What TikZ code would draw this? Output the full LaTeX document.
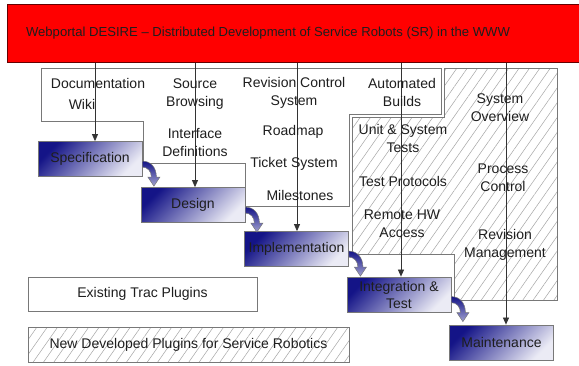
\documentclass[tikz,border=0pt]{standalone}
\usepackage{fontspec}
\setmainfont{Liberation Sans}
\usetikzlibrary{patterns.meta,arrows.meta,calc}
\definecolor{navyd}{RGB}{20,20,135}
\definecolor{navyl}{RGB}{235,235,245}
\definecolor{edge}{RGB}{120,120,120}
\definecolor{hatch}{RGB}{165,165,165}
\definecolor{txt}{RGB}{30,30,30}
\newcommand\flowarrow[1]{\path[flow, shift={(#1)}] (0,0) .. controls (8,0) and (14,6) .. (14,16) -- (17.5,16) -- (11.5,25) -- (5.5,16) -- (9,16) .. controls (9,10) and (5,6) .. (0,6) -- cycle;}
\begin{document}
\begin{tikzpicture}[x=1pt,y=-1pt,
  phase/.style={draw=edge, line width=0.8pt, top color=navyd, bottom color=navyl, shading angle=45,
    minimum width=104pt, minimum height=35pt, inner sep=0pt, font=\fontsize{14}{17}\selectfont, text=txt, align=center},
  lbl/.style={font=\fontsize{14}{18}\selectfont, text=txt, align=center, inner sep=0pt},
  region/.style={draw=edge, line width=0.8pt},
  hatched/.style={region, pattern={Lines[angle=55,distance=8.5pt,line width=0.5pt]}, pattern color=hatch},
  vline/.style={draw=black!80, line width=0.7pt, -{Triangle[length=7pt,width=6pt]}},
  flow/.style={draw=edge, line width=0.5pt, top color=navyd, bottom color=navyd!40!white}
]
\clip (0,0) rectangle (579,365);
\fill[white] (0,0) rectangle (579,365);

% header
\node[draw=red!40!black, line width=0.8pt, fill=red, minimum width=590pt, minimum height=58pt, anchor=north west, inner sep=0pt] (header) at (7,4) {};
\node[lbl, font=\fontsize{13.1}{16}\selectfont] (title) at (268,33) {Webportal DESIRE \textendash{} Distributed Development of Service Robots (SR) in the WWW};

% regions
\draw[region, fill=white] (41,68) -- (441,68) -- (441,114) -- (349,114) -- (349,206) -- (245,206) -- (245,163) -- (143,163) -- (143,121) -- (41,121) -- cycle;
\draw[hatched] (352,117) -- (444,117) -- (444,68) -- (557,68) -- (557,300) -- (454,300) -- (454,254) -- (352,254) -- cycle;

% phase boxes
\node[phase] (spec) at (90,159) {Specification};
\node[phase] (design) at (193,205) {Design};
\node[phase] (impl) at (296.5,249) {Implementation};
\node[phase] (integ) at (399,294.5) {Integration \&\\Test};
\node[phase] (maint) at (501.5,342.5) {Maintenance};

% vertical arrows
\coordinate (t1) at ($(spec.north)+(5,0)$);
\coordinate (t2) at ($(design.north)+(2,0)$);
\coordinate (t3) at ($(impl.north)+(0.5,0)$);
\coordinate (t4) at ($(integ.north)+(2,0)$);
\coordinate (t5) at ($(maint.north)+(4.5,0)$);
\foreach \t in {t1,t2,t3,t4,t5} \draw[vline] (header.south -| \t) -- (\t);

% flow arrows
\flowarrow{$(spec.north east)+(0,20)$}
\flowarrow{$(design.north east)+(0,20)$}
\flowarrow{$(impl.north east)+(0,20)$}
\flowarrow{$(integ.north east)+(0,20)$}

% labels
\node[lbl] (doc) at (98,83) {Documentation};
\node[lbl] (wiki) at (82,104) {Wiki};
\node[lbl] (src) at (195,94) {Source\\Browsing};
\node[lbl] (iface) at (195,142) {Interface\\Definitions};
\node[lbl] (rcs) at (294,93) {Revision Control\\System};
\node[lbl] (road) at (293,132) {Roadmap};
\node[lbl] (ticket) at (294,164) {Ticket System};
\node[lbl] (miles) at (300,195) {Milestones};
\node[lbl] (auto) at (402,92) {Automated\\Builds};
\node[lbl] (unit) at (403,138) {Unit \& System\\Tests};
\node[lbl] (tproto) at (403,181) {Test Protocols};
\node[lbl] (remote) at (402,224) {Remote HW\\Access};
\node[lbl] (sysov) at (500,108) {System\\Overview};
\node[lbl] (proc) at (503,178) {Process\\Control};
\node[lbl] (revm) at (505,245) {Revision\\Management};

% legend
\node[lbl, region, minimum width=229pt, minimum height=34pt] (exist) at (142.5,294) {Existing Trac Plugins};
\node[lbl, hatched, minimum width=321pt, minimum height=35pt] (newdev) at (188.5,344.5) {New Developed Plugins for Service Robotics};
\end{tikzpicture}
\end{document}
